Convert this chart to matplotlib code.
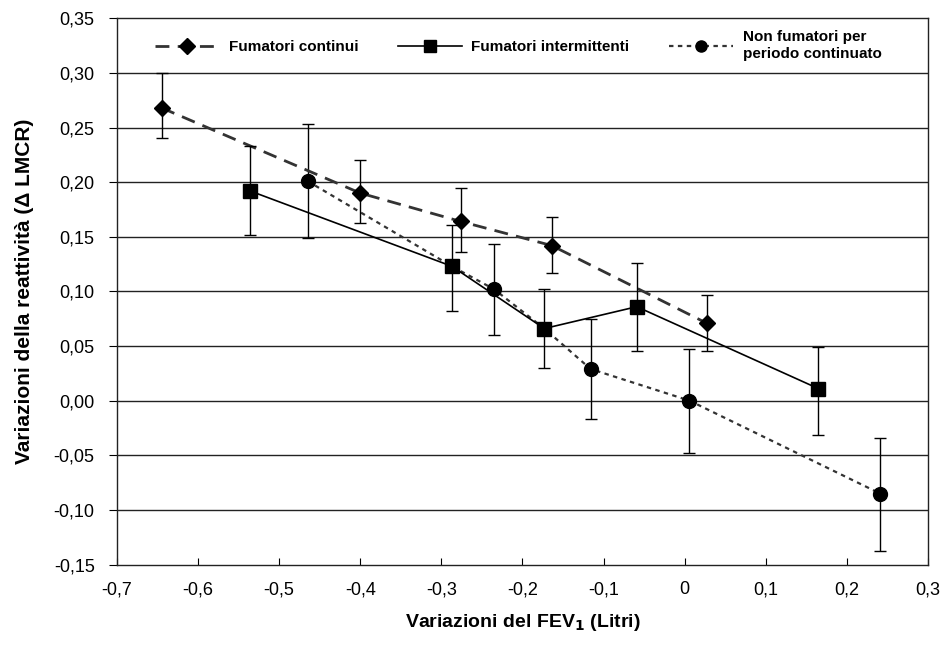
import numpy as np
import matplotlib
matplotlib.use('Agg')
from matplotlib import pyplot as plt
from matplotlib.ticker import FuncFormatter, MultipleLocator

plt.rcParams['font.family'] = ['Liberation Sans', 'DejaVu Sans']
plt.rcParams['axes.unicode_minus'] = False

# Fumatori continui
cont_x = [-0.645, -0.400, -0.276, -0.164, 0.027]
cont_y = [0.268, 0.190, 0.164, 0.142, 0.071]
cont_hi = [0.300, 0.220, 0.195, 0.168, 0.097]
cont_lo = [0.240, 0.163, 0.136, 0.117, 0.045]

# Fumatori intermittenti
int_x = [-0.536, -0.287, -0.173, -0.059, 0.165]
int_y = [0.192, 0.123, 0.066, 0.086, 0.011]
int_hi = [0.233, 0.161, 0.102, 0.126, 0.049]
int_lo = [0.152, 0.082, 0.030, 0.045, -0.031]

# Non fumatori per periodo continuato
non_x = [-0.465, -0.287, -0.235, -0.173, -0.116, 0.006, 0.241]
non_y = [0.201, 0.123, 0.102, 0.066, 0.029, 0.000, -0.085]
non_hi = [0.253, 0.123, 0.143, 0.066, 0.075, 0.047, -0.034]
non_lo = [0.149, 0.123, 0.060, 0.066, -0.017, -0.048, -0.138]
non_marks = [0, 2, 4, 5, 6]

labels = ['Fumatori continui', 'Fumatori intermittenti',
          'Non fumatori per\nperiodo continuato']


def yerr(y, hi, lo):
    y = np.array(y)
    return [y - np.array(lo), np.array(hi) - y]


fig = plt.figure(figsize=(9.43, 6.53), dpi=100)
ax = fig.add_axes([0.124, 0.1355, 0.86, 0.8365])

# righe orizzontali (la banda in alto resta per la legenda)
for v in np.arange(-0.10, 0.31, 0.05):
    ax.axhline(v, color='#222222', lw=1.0, zorder=1)

eb = dict(ecolor='black', elinewidth=1.0, capsize=4, capthick=1.0)

h3 = ax.errorbar(non_x, non_y, yerr=yerr(non_y, non_hi, non_lo),
                 color='#333333', ls=(0, (2, 2)), lw=1.6, marker='o', ms=10,
                 mfc='black', mec='black', markevery=non_marks, zorder=3, **eb)
h1 = ax.errorbar(cont_x, cont_y, yerr=yerr(cont_y, cont_hi, cont_lo),
                 color='#333333', ls=(0, (5, 3)), lw=2.0, marker='D', ms=8,
                 mfc='black', mec='black', zorder=4, **eb)
h2 = ax.errorbar(int_x, int_y, yerr=yerr(int_y, int_hi, int_lo),
                 color='black', ls='-', lw=1.2, marker='s', ms=10.5,
                 mfc='black', mec='black', zorder=5, **eb)

ax.set_xlim(-0.7, 0.3)
ax.set_ylim(-0.15, 0.35)
ax.xaxis.set_major_locator(MultipleLocator(0.1))
ax.yaxis.set_major_locator(MultipleLocator(0.05))
ax.xaxis.set_major_formatter(FuncFormatter(
    lambda v, p: '0' if abs(v) < 1e-9 else ('%.1f' % v).replace('.', ',')))
ax.yaxis.set_major_formatter(FuncFormatter(
    lambda v, p: '0,00' if abs(v) < 1e-9 else ('%.2f' % v).replace('.', ',')))
ax.tick_params(axis='x', direction='in', length=5, labelsize=13, pad=12)
ax.tick_params(axis='y', direction='out', length=6, labelsize=13, pad=10)
for s in ax.spines.values():
    s.set_linewidth(1.0)
    s.set_color('#222222')

ax.set_xlabel('Variazioni del FEV$_\\mathbf{1}$ (Litri)', fontsize=14,
              fontweight='bold', labelpad=10)
ax.set_ylabel('Variazioni della reattività (\u0394 LMCR)', fontsize=15,
              fontweight='bold', labelpad=14)

leg = ax.legend([h1[0], h2[0], h3[0]], labels, loc='center', ncol=3,
                bbox_to_anchor=(0.495, 0.95), borderaxespad=0, frameon=False,
                handlelength=4.2, handletextpad=0.6, columnspacing=2.6,
                prop={'weight': 'bold', 'size': 11})
for h in leg.legend_handles:
    h.set_markersize(8)

fig.savefig('out.png', dpi=100)
